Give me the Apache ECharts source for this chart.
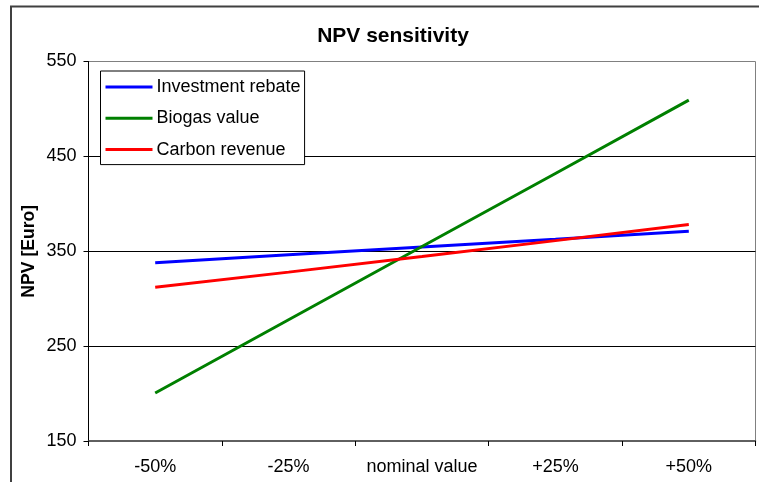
<!DOCTYPE html>
<html>
<head>
<meta charset="utf-8">
<script src="https://cdn.jsdelivr.net/npm/echarts@6/dist/echarts.min.js"></script>
<style>
  html, body { margin: 0; padding: 0; background: #fff; }
  #chart { width: 759px; height: 482px; }
</style>
</head>
<body>
<div id="chart"></div>
<script>
// Sensitivity steps on the x axis
var categories = ['-50%', '-25%', 'nominal value', '+25%', '+50%'];

// NPV (Euro) for each parameter variation
var investmentRebate = [338, 346.3, 354.6, 362.7, 371];
var biogasValue = [200.6, 277.8, 355, 432, 509.3];
var carbonRevenue = [312, 328, 344.5, 361.2, 378.2];

// Y axis range and step
var yMin = 150;
var yMax = 550;
var yStep = 100;

var FONT = '"Liberation Sans", Arial, sans-serif';

var chart = echarts.init(document.getElementById('chart'), null, { renderer: 'canvas' });

function lineSeries(name, data, color) {
  return {
    name: name,
    type: 'line',
    data: data,
    symbol: 'none',
    smooth: false,
    lineStyle: { color: color, width: 3 },
    itemStyle: { color: color },
    emphasis: { disabled: true },
    silent: true
  };
}

chart.setOption({
  animation: false,
  backgroundColor: '#fff',
  textStyle: { fontFamily: FONT },
  graphic: [{
    type: 'rect',
    shape: { x: 11, y: 6.5, width: 800, height: 600 },
    style: { fill: 'none', stroke: '#404040', lineWidth: 2 },
    silent: true,
    z: -1
  }],
  title: {
    text: 'NPV sensitivity',
    left: 388,
    textAlign: 'center',
    top: 19,
    textStyle: { fontFamily: FONT, fontSize: 21, fontWeight: 'bold', color: '#000', lineHeight: 24 }
  },
  legend: {
    orient: 'vertical',
    left: 100.5,
    top: 71,
    padding: [6, 4, 5, 5],
    itemGap: 11.3,
    itemWidth: 47,
    itemHeight: 3,
    icon: 'rect',
    borderColor: '#000',
    borderWidth: 1,
    backgroundColor: '#fff',
    textStyle: { fontFamily: FONT, fontSize: 18, color: '#000', lineHeight: 20, padding: [0, 0, 0, -1] },
    data: ['Investment rebate', 'Biogas value', 'Carbon revenue'],
    selectedMode: false
  },
  grid: {
    left: 88.5,
    top: 61.5,
    right: 3.5,
    bottom: 41,
    show: true,
    borderColor: '#808080',
    borderWidth: 1,
    containLabel: false
  },
  xAxis: {
    type: 'category',
    data: categories,
    boundaryGap: true,
    axisLine: { show: true, lineStyle: { color: '#404040', width: 1.5 } },
    axisTick: { show: true, length: 5, lineStyle: { color: '#000' } },
    axisLabel: { fontFamily: FONT, fontSize: 18, color: '#000', margin: 17, interval: 0 },
    splitLine: { show: false }
  },
  yAxis: {
    type: 'value',
    min: yMin,
    max: yMax,
    interval: yStep,
    name: 'NPV [Euro]',
    nameLocation: 'middle',
    nameGap: 50,
    nameMoveOverlap: false,
    nameTextStyle: { fontFamily: FONT, fontSize: 17.6, fontWeight: 'bold', color: '#000' },
    axisLine: { show: true, lineStyle: { color: '#000', width: 1 } },
    axisTick: { show: true, length: 5, lineStyle: { color: '#000' } },
    axisLabel: { fontFamily: FONT, fontSize: 18, color: '#000', margin: 12 },
    splitLine: {
      show: true,
      showMinLine: false,
      showMaxLine: false,
      lineStyle: { color: '#000', width: 1 }
    }
  },
  series: [
    lineSeries('Investment rebate', investmentRebate, '#0000FF'),
    lineSeries('Biogas value', biogasValue, '#008000'),
    lineSeries('Carbon revenue', carbonRevenue, '#FF0000')
  ]
});
</script>
</body>
</html>
